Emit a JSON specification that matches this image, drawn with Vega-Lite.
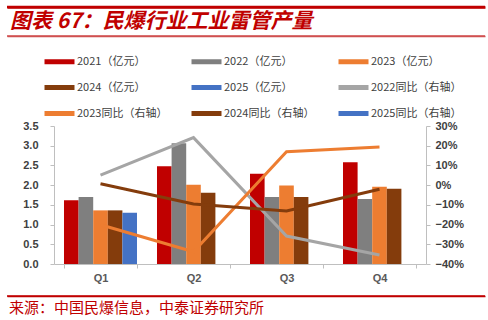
{
  "$schema": "https://vega.github.io/schema/vega-lite/v6.json",
  "padding": {"left": 5, "top": 5, "right": 5, "bottom": 0},
  "spacing": 1,
  "background": "white",
  "config": {"view": {"stroke": null}},
  "datasets": {
    "bars": [
      {"q": "Q1", "s": "2021（亿元）", "v": 1.62},
      {"q": "Q1", "s": "2022（亿元）", "v": 1.70},
      {"q": "Q1", "s": "2023（亿元）", "v": 1.36},
      {"q": "Q1", "s": "2024（亿元）", "v": 1.36},
      {"q": "Q1", "s": "2025（亿元）", "v": 1.30},
      {"q": "Q2", "s": "2021（亿元）", "v": 2.48},
      {"q": "Q2", "s": "2022（亿元）", "v": 3.06},
      {"q": "Q2", "s": "2023（亿元）", "v": 2.01},
      {"q": "Q2", "s": "2024（亿元）", "v": 1.81},
      {"q": "Q3", "s": "2021（亿元）", "v": 2.29},
      {"q": "Q3", "s": "2022（亿元）", "v": 1.70},
      {"q": "Q3", "s": "2023（亿元）", "v": 1.99},
      {"q": "Q3", "s": "2024（亿元）", "v": 1.70},
      {"q": "Q4", "s": "2021（亿元）", "v": 2.58},
      {"q": "Q4", "s": "2022（亿元）", "v": 1.65},
      {"q": "Q4", "s": "2023（亿元）", "v": 1.96},
      {"q": "Q4", "s": "2024（亿元）", "v": 1.91}
    ],
    "lines": [
      {"q": "Q1", "s": "2022同比（右轴）", "r": 0.051},
      {"q": "Q2", "s": "2022同比（右轴）", "r": 0.241},
      {"q": "Q3", "s": "2022同比（右轴）", "r": -0.258},
      {"q": "Q4", "s": "2022同比（右轴）", "r": -0.354},
      {"q": "Q1", "s": "2023同比（右轴）", "r": -0.201},
      {"q": "Q2", "s": "2023同比（右轴）", "r": -0.338},
      {"q": "Q3", "s": "2023同比（右轴）", "r": 0.17},
      {"q": "Q4", "s": "2023同比（右轴）", "r": 0.194},
      {"q": "Q1", "s": "2024同比（右轴）", "r": 0.007},
      {"q": "Q2", "s": "2024同比（右轴）", "r": -0.096},
      {"q": "Q3", "s": "2024同比（右轴）", "r": -0.131},
      {"q": "Q4", "s": "2024同比（右轴）", "r": -0.021}
    ],
    "header": [{"title": "图表 67：民爆行业工业雷管产量"}],
    "footer": [{"source": "来源：中国民爆信息，中泰证券研究所"}]
  },
  "vconcat": [
    {
      "width": 478,
      "height": 29,
      "data": {"name": "header"},
      "layer": [
        {
          "mark": {"type": "rule", "color": "#C00000", "strokeWidth": 2.5},
          "encoding": {
            "x": {"datum": 0, "type": "quantitative", "scale": {"domain": [0, 1]}, "axis": {"orient": "top", "domainColor": "#C00000", "domainWidth": 2.5, "labels": false, "ticks": false, "grid": false, "title": null}},
            "x2": {"datum": 1},
            "y": {"datum": 1, "type": "quantitative", "scale": {"domain": [0, 1]}, "axis": null}
          }
        },
        {
          "mark": {"type": "rule", "color": "#D05050", "strokeWidth": 1.3},
          "encoding": {
            "x": {"datum": 0, "type": "quantitative", "scale": {"domain": [0, 1]}, "axis": {"orient": "bottom", "domainColor": "#D05050", "domainWidth": 1.3, "labels": false, "ticks": false, "grid": false, "title": null}},
            "x2": {"datum": 1},
            "y": {"datum": 0, "type": "quantitative", "scale": {"domain": [0, 1]}, "axis": null}
          }
        },
        {
          "mark": {"type": "text", "align": "left", "baseline": "middle", "dx": 3, "color": "#C00000", "font": "Noto Sans CJK SC", "fontSize": 21, "fontWeight": "bold", "fontStyle": "italic"},
          "encoding": {
            "x": {"datum": 0, "type": "quantitative", "scale": {"domain": [0, 1]}, "axis": null},
            "y": {"datum": 0.47, "type": "quantitative", "scale": {"domain": [0, 1]}, "axis": null},
            "text": {"field": "title"}
          }
        }
      ],
      "resolve": {"scale": {"x": "independent"}, "axis": {"x": "independent"}}
    },
    {
      "width": 467,
      "height": 256,
      "layer": [
        {
          "data": {"name": "bars"},
          "mark": {"type": "bar"},
          "encoding": {
            "x": {
              "field": "q", "type": "nominal",
              "scale": {"range": [47, 419], "paddingInner": 0.215, "paddingOuter": 0.1075},
              "axis": {"title": null, "offset": -30, "tickBand": "extent", "labelAngle": 0, "domainColor": "#BFBFBF", "tickColor": "#BFBFBF", "tickSize": 4, "labelColor": "#595959", "labelFont": "Liberation Sans", "labelFontSize": 11, "labelFontWeight": "bold", "labelPadding": 4}
            },
            "xOffset": {
              "field": "s", "type": "nominal",
              "scale": {"domain": ["2021（亿元）", "2022（亿元）", "2023（亿元）", "2024（亿元）", "2025（亿元）"], "paddingInner": 0, "paddingOuter": 0}
            },
            "y": {
              "field": "v", "type": "quantitative",
              "scale": {"domain": [0, 3.5], "range": [226, 88], "nice": false},
              "axis": {"title": null, "offset": -47, "values": [0, 0.5, 1, 1.5, 2, 2.5, 3, 3.5], "format": ".1f", "grid": false, "domainColor": "#BFBFBF", "tickColor": "#BFBFBF", "tickSize": 4, "labelPadding": 12, "labelColor": "#404040", "labelFont": "Liberation Sans", "labelFontSize": 11, "labelFontWeight": "bold"}
            },
            "color": {
              "field": "s", "type": "nominal",
              "scale": {
                "domain": ["2021（亿元）", "2022（亿元）", "2023（亿元）", "2024（亿元）", "2025（亿元）", "2022同比（右轴）", "2023同比（右轴）", "2024同比（右轴）", "2025同比（右轴）"],
                "range": ["#C00000", "#7F7F7F", "#ED7D31", "#843C0C", "#4472C4", "#A5A5A5", "#ED7D31", "#843C0C", "#4472C4"]
              },
              "legend": {
                "orient": "none", "legendX": 45, "legendY": 47, "columns": 3, "direction": "horizontal", "title": null,
                "symbolType": "M-3,0H3", "symbolSize": 100, "symbolStrokeWidth": 5,
                "labelFont": "Noto Sans CJK SC", "labelFontSize": 11, "labelColor": "#404040", "labelOffset": 10, "labelLimit": 300,
                "columnPadding": 13, "rowPadding": 5, "gridAlign": "all"
              }
            }
          }
        },
        {
          "data": {"name": "lines"},
          "mark": {"type": "line", "strokeWidth": 3},
          "encoding": {
            "x": {"field": "q", "type": "nominal"},
            "y": {
              "field": "r", "type": "quantitative",
              "scale": {"domain": [-0.4, 0.3], "range": [226, 88], "nice": false, "zero": false},
              "axis": {"title": null, "orient": "right", "offset": -48, "values": [-0.4, -0.3, -0.2, -0.1, 0, 0.1, 0.2, 0.3], "format": ".0%", "grid": false, "domainColor": "#BFBFBF", "tickColor": "#BFBFBF", "tickSize": 4, "labelPadding": 5, "labelColor": "#404040", "labelFont": "Liberation Sans", "labelFontSize": 11, "labelFontWeight": "bold"}
            },
            "color": {"field": "s", "type": "nominal"}
          }
        }
      ],
      "resolve": {"scale": {"y": "independent"}}
    },
    {
      "width": 478,
      "height": 20,
      "data": {"name": "footer"},
      "layer": [
        {
          "mark": {"type": "rule", "color": "#C00000", "strokeWidth": 1.3},
          "encoding": {
            "x": {"datum": 0, "type": "quantitative", "scale": {"domain": [0, 1]}, "axis": {"orient": "top", "domainColor": "#C00000", "domainWidth": 1.3, "labels": false, "ticks": false, "grid": false, "title": null}},
            "x2": {"datum": 1},
            "y": {"datum": 1, "type": "quantitative", "scale": {"domain": [0, 1]}, "axis": null}
          }
        },
        {
          "mark": {"type": "text", "align": "left", "baseline": "middle", "dx": 2, "color": "#C00000", "font": "Noto Sans CJK SC", "fontSize": 15},
          "encoding": {
            "x": {"datum": 0, "type": "quantitative", "scale": {"domain": [0, 1]}, "axis": null},
            "y": {"datum": 0.4, "type": "quantitative", "scale": {"domain": [0, 1]}, "axis": null},
            "text": {"field": "source"}
          }
        }
      ],
      "resolve": {"scale": {"x": "independent"}, "axis": {"x": "independent"}}
    }
  ]
}
